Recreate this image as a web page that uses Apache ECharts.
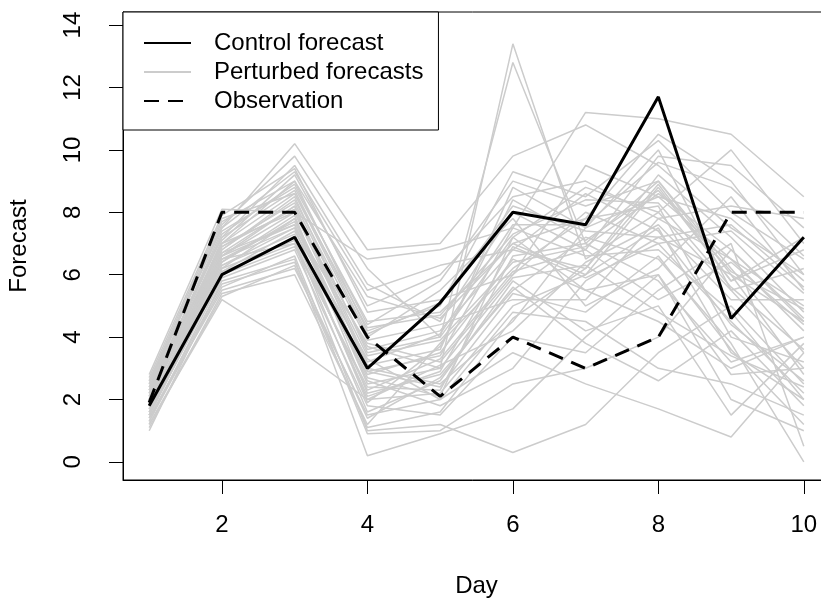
<!DOCTYPE html>
<html>
<head>
<meta charset="utf-8">
<script src="https://cdn.jsdelivr.net/npm/echarts@6/dist/echarts.min.js"></script>
<style>html,body{margin:0;padding:0;background:#fff;}#chart{width:821px;height:599px;}</style>
</head>
<body>
<div id="chart"></div>
<script>
const days = [1, 2, 3, 4, 5, 6, 7, 8, 9, 10];
const xTicks = [2, 4, 6, 8, 10];
const yTicks = [0, 2, 4, 6, 8, 10, 12, 14];
const control = [1.8, 6.0, 7.2, 3.0, 5.1, 8.0, 7.6, 11.7, 4.6, 7.2];
const observation = [1.9, 8.0, 8.0, 4.0, 2.1, 4.0, 3.0, 4.0, 8.0, 8.0];
const perturbed = [
  [1.5, 6.2, 7.8, 2.5, 3.0, 13.4, 6.5, 8.0, 5.5, 3.0],
  [2.0, 6.8, 8.5, 3.5, 4.0, 12.8, 7.0, 9.0, 6.0, 4.5],
  [1.2, 5.2, 3.7, 2.0, 2.2, 5.0, 6.0, 7.5, 3.5, 2.0],
  [2.5, 7.5, 10.2, 6.8, 7.0, 9.8, 10.8, 9.5, 7.5, 6.0],
  [1.8, 6.5, 7.0, 1.0, 1.2, 0.3, 1.2, 3.5, 5.0, 2.5],
  [2.2, 7.0, 9.0, 4.2, 5.0, 9.3, 8.5, 10.3, 8.0, 6.5],
  [1.0, 5.8, 6.5, 0.2, 0.9, 1.7, 4.0, 6.0, 2.0, 1.0],
  [2.8, 8.1, 8.0, 6.5, 6.8, 7.5, 11.2, 11.0, 10.5, 8.5],
  [1.6, 6.0, 7.2, 2.8, 3.5, 6.5, 5.5, 4.5, 3.0, 4.0],
  [2.1, 6.6, 8.2, 3.0, 2.5, 4.5, 7.5, 8.5, 6.5, 5.0],
  [1.4, 5.5, 6.2, 1.5, 2.0, 3.5, 2.5, 1.7, 0.8, 3.5],
  [2.4, 7.2, 9.5, 5.7, 4.5, 8.0, 6.8, 9.8, 9.5, 7.5],
  [1.9, 6.3, 7.5, 3.8, 3.2, 6.0, 8.0, 7.0, 4.5, 2.2],
  [1.3, 5.9, 6.8, 1.8, 1.5, 4.0, 3.5, 5.5, 7.0, 0.5],
  [2.3, 7.4, 8.8, 4.5, 4.8, 7.0, 6.0, 8.8, 5.8, 6.8],
  [1.7, 6.4, 7.9, 2.2, 2.8, 5.5, 7.2, 6.5, 3.8, 0.0],
  [2.0, 7.1, 9.2, 5.0, 6.0, 8.5, 9.0, 7.8, 6.5, 4.2],
  [1.5, 6.1, 7.4, 3.3, 2.0, 4.8, 4.5, 3.0, 2.5, 1.5],
  [2.6, 7.8, 8.6, 4.0, 5.5, 7.8, 5.0, 6.2, 8.5, 5.5],
  [1.1, 5.4, 6.0, 1.2, 3.8, 6.2, 7.8, 8.2, 4.0, 3.2],
  [2.2, 6.9, 8.3, 3.6, 4.2, 6.8, 6.2, 9.2, 7.2, 4.8],
  [1.8, 6.7, 7.6, 2.6, 1.8, 3.0, 5.8, 7.2, 6.0, 2.8],
  [2.4, 7.6, 9.8, 6.2, 4.0, 7.2, 8.8, 8.0, 10.0, 7.0],
  [1.6, 6.2, 7.1, 1.6, 2.6, 5.8, 4.2, 5.0, 1.5, 3.8],
  [2.1, 7.0, 8.0, 3.1, 3.6, 8.8, 7.5, 10.0, 5.5, 6.2],
  [1.3, 5.6, 6.6, 0.9, 1.0, 2.5, 3.0, 4.0, 6.8, 4.5],
  [2.7, 7.9, 9.4, 4.8, 5.2, 6.0, 9.5, 8.5, 7.8, 5.8],
  [1.9, 6.5, 7.7, 2.9, 3.4, 7.5, 6.6, 6.8, 4.8, 2.0],
  [2.0, 6.8, 8.4, 3.9, 4.4, 5.2, 5.2, 7.8, 8.2, 7.8],
  [1.5, 6.0, 6.9, 2.4, 2.3, 6.6, 7.0, 5.8, 3.2, 4.0],
  [2.3, 7.3, 8.9, 4.4, 5.8, 9.0, 8.2, 9.0, 6.2, 3.5],
  [1.7, 6.3, 7.3, 2.0, 3.1, 4.2, 6.4, 7.6, 5.2, 5.2],
  [2.5, 7.7, 9.0, 5.3, 4.6, 7.0, 7.8, 10.5, 9.0, 6.0],
  [1.4, 5.7, 6.4, 1.4, 2.7, 5.6, 3.8, 2.6, 4.2, 1.8],
  [2.0, 6.9, 8.1, 3.4, 3.9, 6.4, 6.9, 8.6, 6.8, 4.6],
  [1.8, 6.6, 7.6, 2.7, 2.1, 7.2, 5.5, 6.0, 2.8, 3.0],
  [2.2, 7.2, 8.7, 4.1, 5.1, 8.2, 7.4, 7.2, 7.6, 5.6],
  [1.2, 5.3, 6.3, 1.1, 1.6, 4.6, 6.2, 8.9, 5.8, 7.2],
  [2.6, 7.5, 9.3, 5.5, 6.3, 6.8, 8.6, 7.4, 4.4, 2.6],
  [1.6, 6.1, 7.0, 2.3, 3.3, 6.1, 6.8, 5.2, 6.4, 4.4],
  [2.1, 6.7, 8.2, 3.2, 4.1, 7.6, 7.6, 9.6, 8.8, 6.6],
  [1.9, 6.4, 7.8, 2.9, 2.4, 5.4, 4.8, 6.6, 3.6, 1.2],
  [2.3, 7.0, 8.6, 4.3, 4.7, 7.3, 8.4, 8.3, 5.6, 3.6],
  [1.5, 6.0, 7.2, 2.1, 2.9, 6.9, 5.9, 7.0, 7.4, 5.4],
  [2.0, 6.6, 8.0, 3.7, 3.0, 5.9, 6.3, 4.8, 3.4, 2.4],
  [1.7, 6.5, 7.5, 1.9, 3.7, 8.4, 7.1, 8.7, 6.1, 4.9]
];

const FONT = 'Liberation Sans, Arial, Helvetica, sans-serif';
const FS = 24;
const pairs = vals => days.map((d, i) => [d, vals[i]]);

const series = [];
perturbed.forEach(p => {
  series.push({
    name: 'Perturbed forecasts', type: 'line', data: pairs(p),
    symbol: 'none', silent: true, z: 1,
    itemStyle: { color: '#cccccc' },
    lineStyle: { color: '#cccccc', width: 1.5 }
  });
});
series.push({
  name: 'Control forecast', type: 'line', data: pairs(control),
  symbol: 'none', z: 3,
  itemStyle: { color: '#000000' },
  lineStyle: { color: '#000000', width: 3 }
});
series.push({
  name: 'Observation', type: 'line', data: pairs(observation),
  symbol: 'none', z: 4,
  itemStyle: { color: '#000000' },
  lineStyle: { color: '#000000', width: 3, type: [15, 9] }
});

const chart = echarts.init(document.getElementById('chart'), null, { renderer: 'canvas' });
chart.setOption({
  animation: false,
  backgroundColor: '#ffffff',
  textStyle: { fontFamily: FONT },
  grid: {
    left: 123, top: 12, width: 707, height: 468,
    outerBoundsMode: 'none', containLabel: false,
    show: true, borderColor: '#000', borderWidth: 1, backgroundColor: 'transparent'
  },
  legend: {
    data: ['Control forecast', 'Perturbed forecasts', 'Observation'],
    orient: 'vertical', left: 123, top: 12,
    padding: [19, 15, 17, 20],
    itemWidth: 47, itemHeight: 14, itemGap: 5,
    itemStyle: { opacity: 0 },
    backgroundColor: '#ffffff', borderColor: '#000', borderWidth: 1,
    textStyle: { fontFamily: FONT, fontSize: FS, color: '#000', lineHeight: 24, padding: [0, 0, 0, 18] },
    selectedMode: false
  },
  xAxis: {
    type: 'value', min: 0.64, max: 10.36,
    name: 'Day', nameLocation: 'middle', nameGap: 94,
    nameTextStyle: { fontFamily: FONT, fontSize: FS, color: '#000' },
    axisLine: { show: true, onZero: false, lineStyle: { color: '#000', width: 1 } },
    axisTick: { show: true, length: 14, lineStyle: { color: '#000', width: 1 }, customValues: xTicks },
    axisLabel: { fontFamily: FONT, fontSize: FS, color: '#000', margin: 33, customValues: xTicks },
    splitLine: { show: false }
  },
  yAxis: {
    type: 'value', min: -0.58, max: 14.42,
    name: 'Forecast', nameLocation: 'middle', nameGap: 92, nameRotate: 90,
    nameTextStyle: { fontFamily: FONT, fontSize: FS, color: '#000' },
    axisLine: { show: true, onZero: false, lineStyle: { color: '#000', width: 1 } },
    axisTick: { show: true, length: 14, lineStyle: { color: '#000', width: 1 }, customValues: yTicks },
    axisLabel: { fontFamily: FONT, fontSize: FS, color: '#000', margin: 38, rotate: 90, customValues: yTicks },
    splitLine: { show: false }
  },
  series: series
});
</script>
</body>
</html>
